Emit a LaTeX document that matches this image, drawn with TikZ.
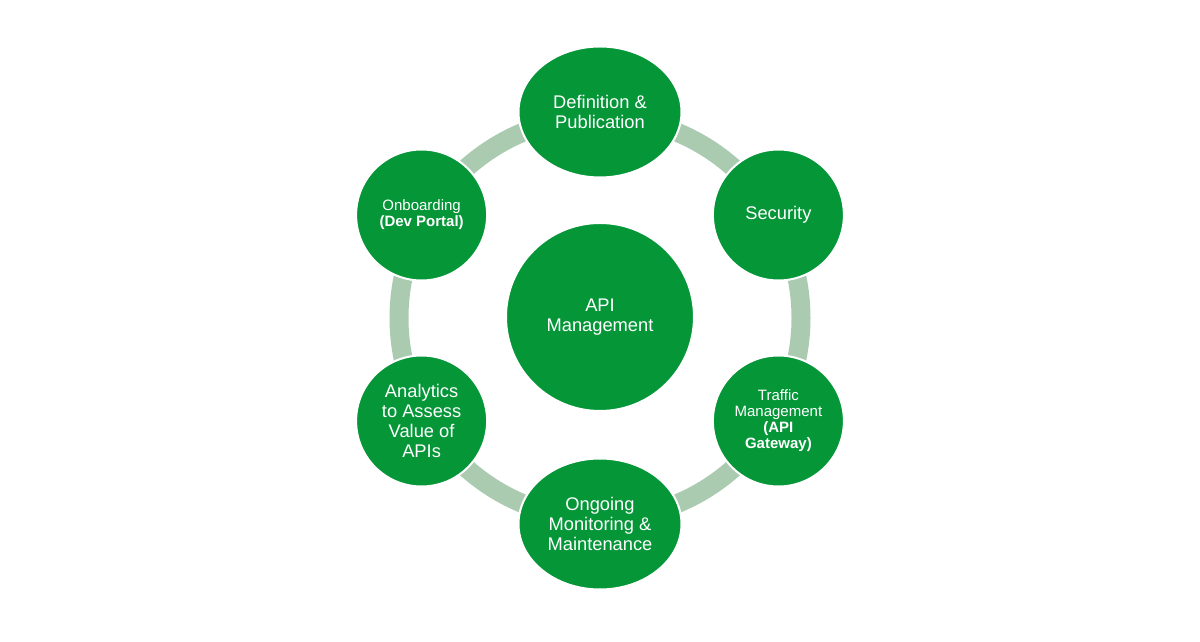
\documentclass[tikz,border=0pt]{standalone}
\usepackage{fontspec}
\setmainfont{Liberation Sans}
\usetikzlibrary{shapes.geometric}
\definecolor{stagegreen}{RGB}{5,150,56}
\definecolor{ringgreen}{RGB}{171,203,177}
\tikzset{
  stage/.style={circle, fill=stagegreen, draw=white, line width=2pt,
    minimum size=131pt, inner sep=0pt, text=white, align=center,
    font=\fontsize{18.3}{20}\selectfont},
  phase/.style={stage, ellipse, minimum width=163pt, minimum height=131pt},
  smalltext/.style={font=\fontsize{15}{16}\selectfont},
  hub/.style={stage, minimum size=188pt},
}
\begin{document}
\begin{tikzpicture}[x=1pt,y=1pt]
  \useasboundingbox (0,0) rectangle (1200,642);
  \begin{scope}[shift={(600,324)}]
    \draw[ringgreen, line width=19pt] (0,0) circle (201);
    \node[hub] (api) at (0,1) {API\\Management};
    \draw
      (90:206) node[phase] (def) {Definition \&\\Publication}
      (30:206) node[stage] (sec) {Security}
      (-30:206) node[stage, smalltext] (traffic) {Traffic\\Management\\\textbf{(API}\\\textbf{Gateway)}}
      (-90:206) node[phase] (ops) {Ongoing\\Monitoring \&\\Maintenance}
      (210:206) node[stage] (value) {Analytics\\to Assess\\Value of\\APIs}
      (150:206) node[stage, smalltext] (onboard) {Onboarding\\\textbf{(Dev Portal)}};
  \end{scope}
\end{tikzpicture}
\end{document}
